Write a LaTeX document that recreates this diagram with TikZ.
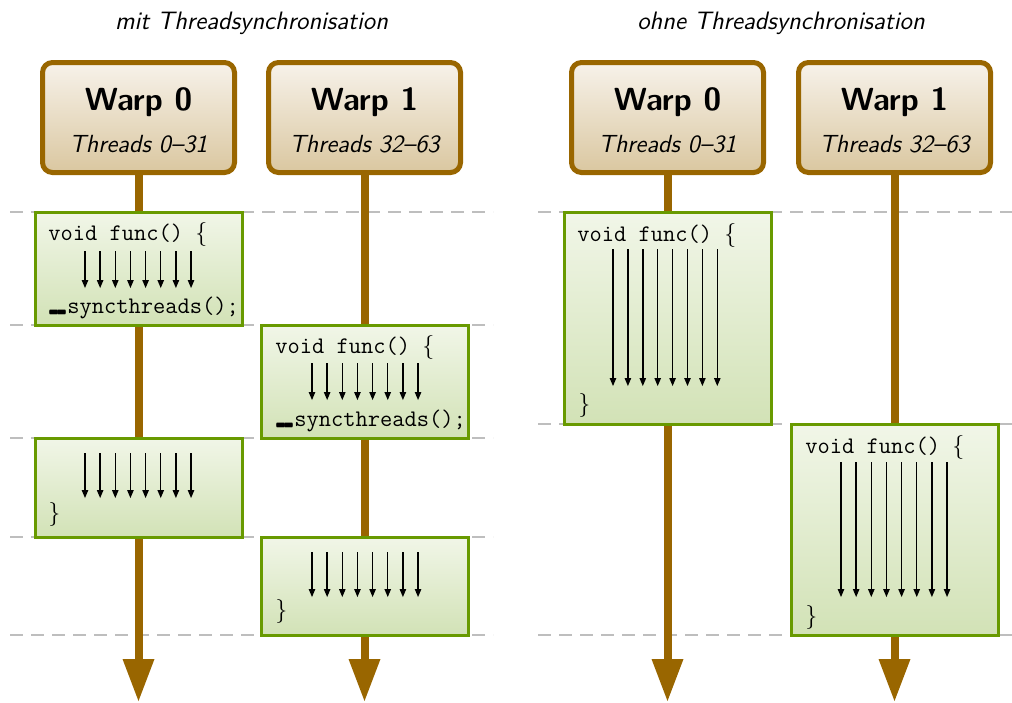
\documentclass[tikz,border=0pt]{standalone}
\usetikzlibrary{arrows.meta}

\definecolor{warpbrown}{RGB}{153,102,0}
\definecolor{warptop}{RGB}{247,242,234}
\definecolor{warpbot}{RGB}{218,199,160}
\definecolor{codegreen}{RGB}{104,154,0}
\definecolor{codetop}{RGB}{241,246,232}
\definecolor{codebot}{RGB}{210,226,182}
\definecolor{guidegray}{RGB}{190,190,190}

\newcommand\titlefont{\fontsize{12.6}{15}\selectfont\sffamily\itshape}
\newcommand\warpfont{\fontsize{16}{19}\selectfont\sffamily\bfseries}
\newcommand\threadfont{\fontsize{12.4}{15}\selectfont\sffamily\itshape}
\newcommand\codefont{\fontsize{11.9}{14}\selectfont\ttfamily}
% heavy double underscore of the CUDA intrinsic
\newcommand\cudaus{\raisebox{6.5pt}{\scalebox{0.9}[3]{\_\kern-.15em\_}}}

\tikzset{
  warpbox/.style={draw=warpbrown, line width=2.5pt, rounded corners=5pt,
    top color=warptop, bottom color=warpbot,
    minimum width=96pt, minimum height=55pt, inner sep=0pt},
  warpname/.style={font=\warpfont, anchor=base, inner sep=0pt},
  warpthreads/.style={font=\threadfont, anchor=base, inner sep=0pt},
  codebox/.style={draw=codegreen, line width=1.5pt,
    top color=codetop, bottom color=codebot,
    minimum width=103.5pt, inner sep=0pt},
  codetext/.style={font=\codefont, anchor=base west, inner sep=0pt},
  heading/.style={font=\titlefont, anchor=base, inner sep=0pt},
  lifeline/.style={draw=warpbrown, line width=4pt,
    -{Triangle[length=21pt,width=16pt,line width=0pt]}},
  guide/.style={draw=guidegray, line width=1pt, dash pattern=on 6.5pt off 4pt},
  thread/.style={line width=0.7pt, -{Triangle[length=4pt,width=3.4pt,line width=0pt]}},
}

\begin{document}
\begin{tikzpicture}[x=0.5pt, y=-0.5pt]
  \useasboundingbox (0,0) rectangle (1012,702);

  % headings
  \node[heading] (hmit)  at (251.5,29) {mit Threadsynchronisation};
  \node[heading] (hohne) at (781,29)   {ohne Threadsynchronisation};

  % time steps
  \foreach \y in {212,325,438,537,635}
    \draw[guide] (10,\y) -- (493,\y);
  \foreach \y in {212,424,635}
    \draw[guide] (538,\y) -- (1012,\y);

  % warps
  \node[warpbox] (lw0) at (138.5,117.5) {};
  \node[warpname] (lw0n) at (138.5,110) {Warp 0};
  \node[warpthreads] (lw0t) at (138.5,152) {Threads 0–31};
  \node[warpbox] (lw1) at (364.5,117.5) {};
  \node[warpname] (lw1n) at (364.5,110) {Warp 1};
  \node[warpthreads] (lw1t) at (364.5,152) {Threads 32–63};
  \node[warpbox] (rw0) at (667.5,117.5) {};
  \node[warpname] (rw0n) at (667.5,110) {Warp 0};
  \node[warpthreads] (rw0t) at (667.5,152) {Threads 0–31};
  \node[warpbox] (rw1) at (894.5,117.5) {};
  \node[warpname] (rw1n) at (894.5,110) {Warp 1};
  \node[warpthreads] (rw1t) at (894.5,152) {Threads 32–63};

  % lifelines
  \coordinate (lw0e) at (138.5,701);
  \coordinate (lw1e) at (364.5,701);
  \coordinate (rw0e) at (667.5,701);
  \coordinate (rw1e) at (894.5,701);
  \draw[lifeline] (lw0) -- (lw0e);
  \draw[lifeline] (lw1) -- (lw1e);
  \draw[lifeline] (rw0) -- (rw0e);
  \draw[lifeline] (rw1) -- (rw1e);

  % with synchronisation
  \node[codebox, minimum height=56.5pt] (ca) at (138.5,268.5) {};
  \node[codetext] (ca1) at (48,240) {void func() $\{$};
  \node[codetext] (ca2) at (48,313) {\cudaus syncthreads();};
  \foreach \i in {0,...,7}
    \draw[thread] (85+15.15*\i,251) -- (85+15.15*\i,288);

  \node[codebox, minimum height=56.5pt] (cb) at (364.5,381.5) {};
  \node[codetext] (cb1) at (275,353) {void func() $\{$};
  \node[codetext] (cb2) at (275,426) {\cudaus syncthreads();};
  \foreach \i in {0,...,7}
    \draw[thread] (312+15.15*\i,363) -- (312+15.15*\i,400);

  \node[codebox, minimum height=49.5pt] (cc) at (138.5,487.5) {};
  \node[codetext] (cc1) at (48,520) {$\}$};
  \foreach \i in {0,...,7}
    \draw[thread] (85+15.15*\i,453) -- (85+15.15*\i,498);

  \node[codebox, minimum height=49pt] (cd) at (364.5,586) {};
  \node[codetext] (cd1) at (275,617) {$\}$};
  \foreach \i in {0,...,7}
    \draw[thread] (312+15.15*\i,552) -- (312+15.15*\i,597);

  % without synchronisation
  \node[codebox, minimum height=106pt] (ce) at (667.5,318) {};
  \node[codetext] (ce1) at (577,241) {void func() $\{$};
  \node[codetext] (ce2) at (578,411) {$\}$};
  \foreach \i in {0,...,7}
    \draw[thread] (613+14.9*\i,249) -- (613+14.9*\i,386);

  \node[codebox, minimum height=105.5pt] (cf) at (894.5,529.5) {};
  \node[codetext] (cf1) at (805,453) {void func() $\{$};
  \node[codetext] (cf2) at (805,623) {$\}$};
  \foreach \i in {0,...,7}
    \draw[thread] (841+15.15*\i,462) -- (841+15.15*\i,597);
\end{tikzpicture}
\end{document}
